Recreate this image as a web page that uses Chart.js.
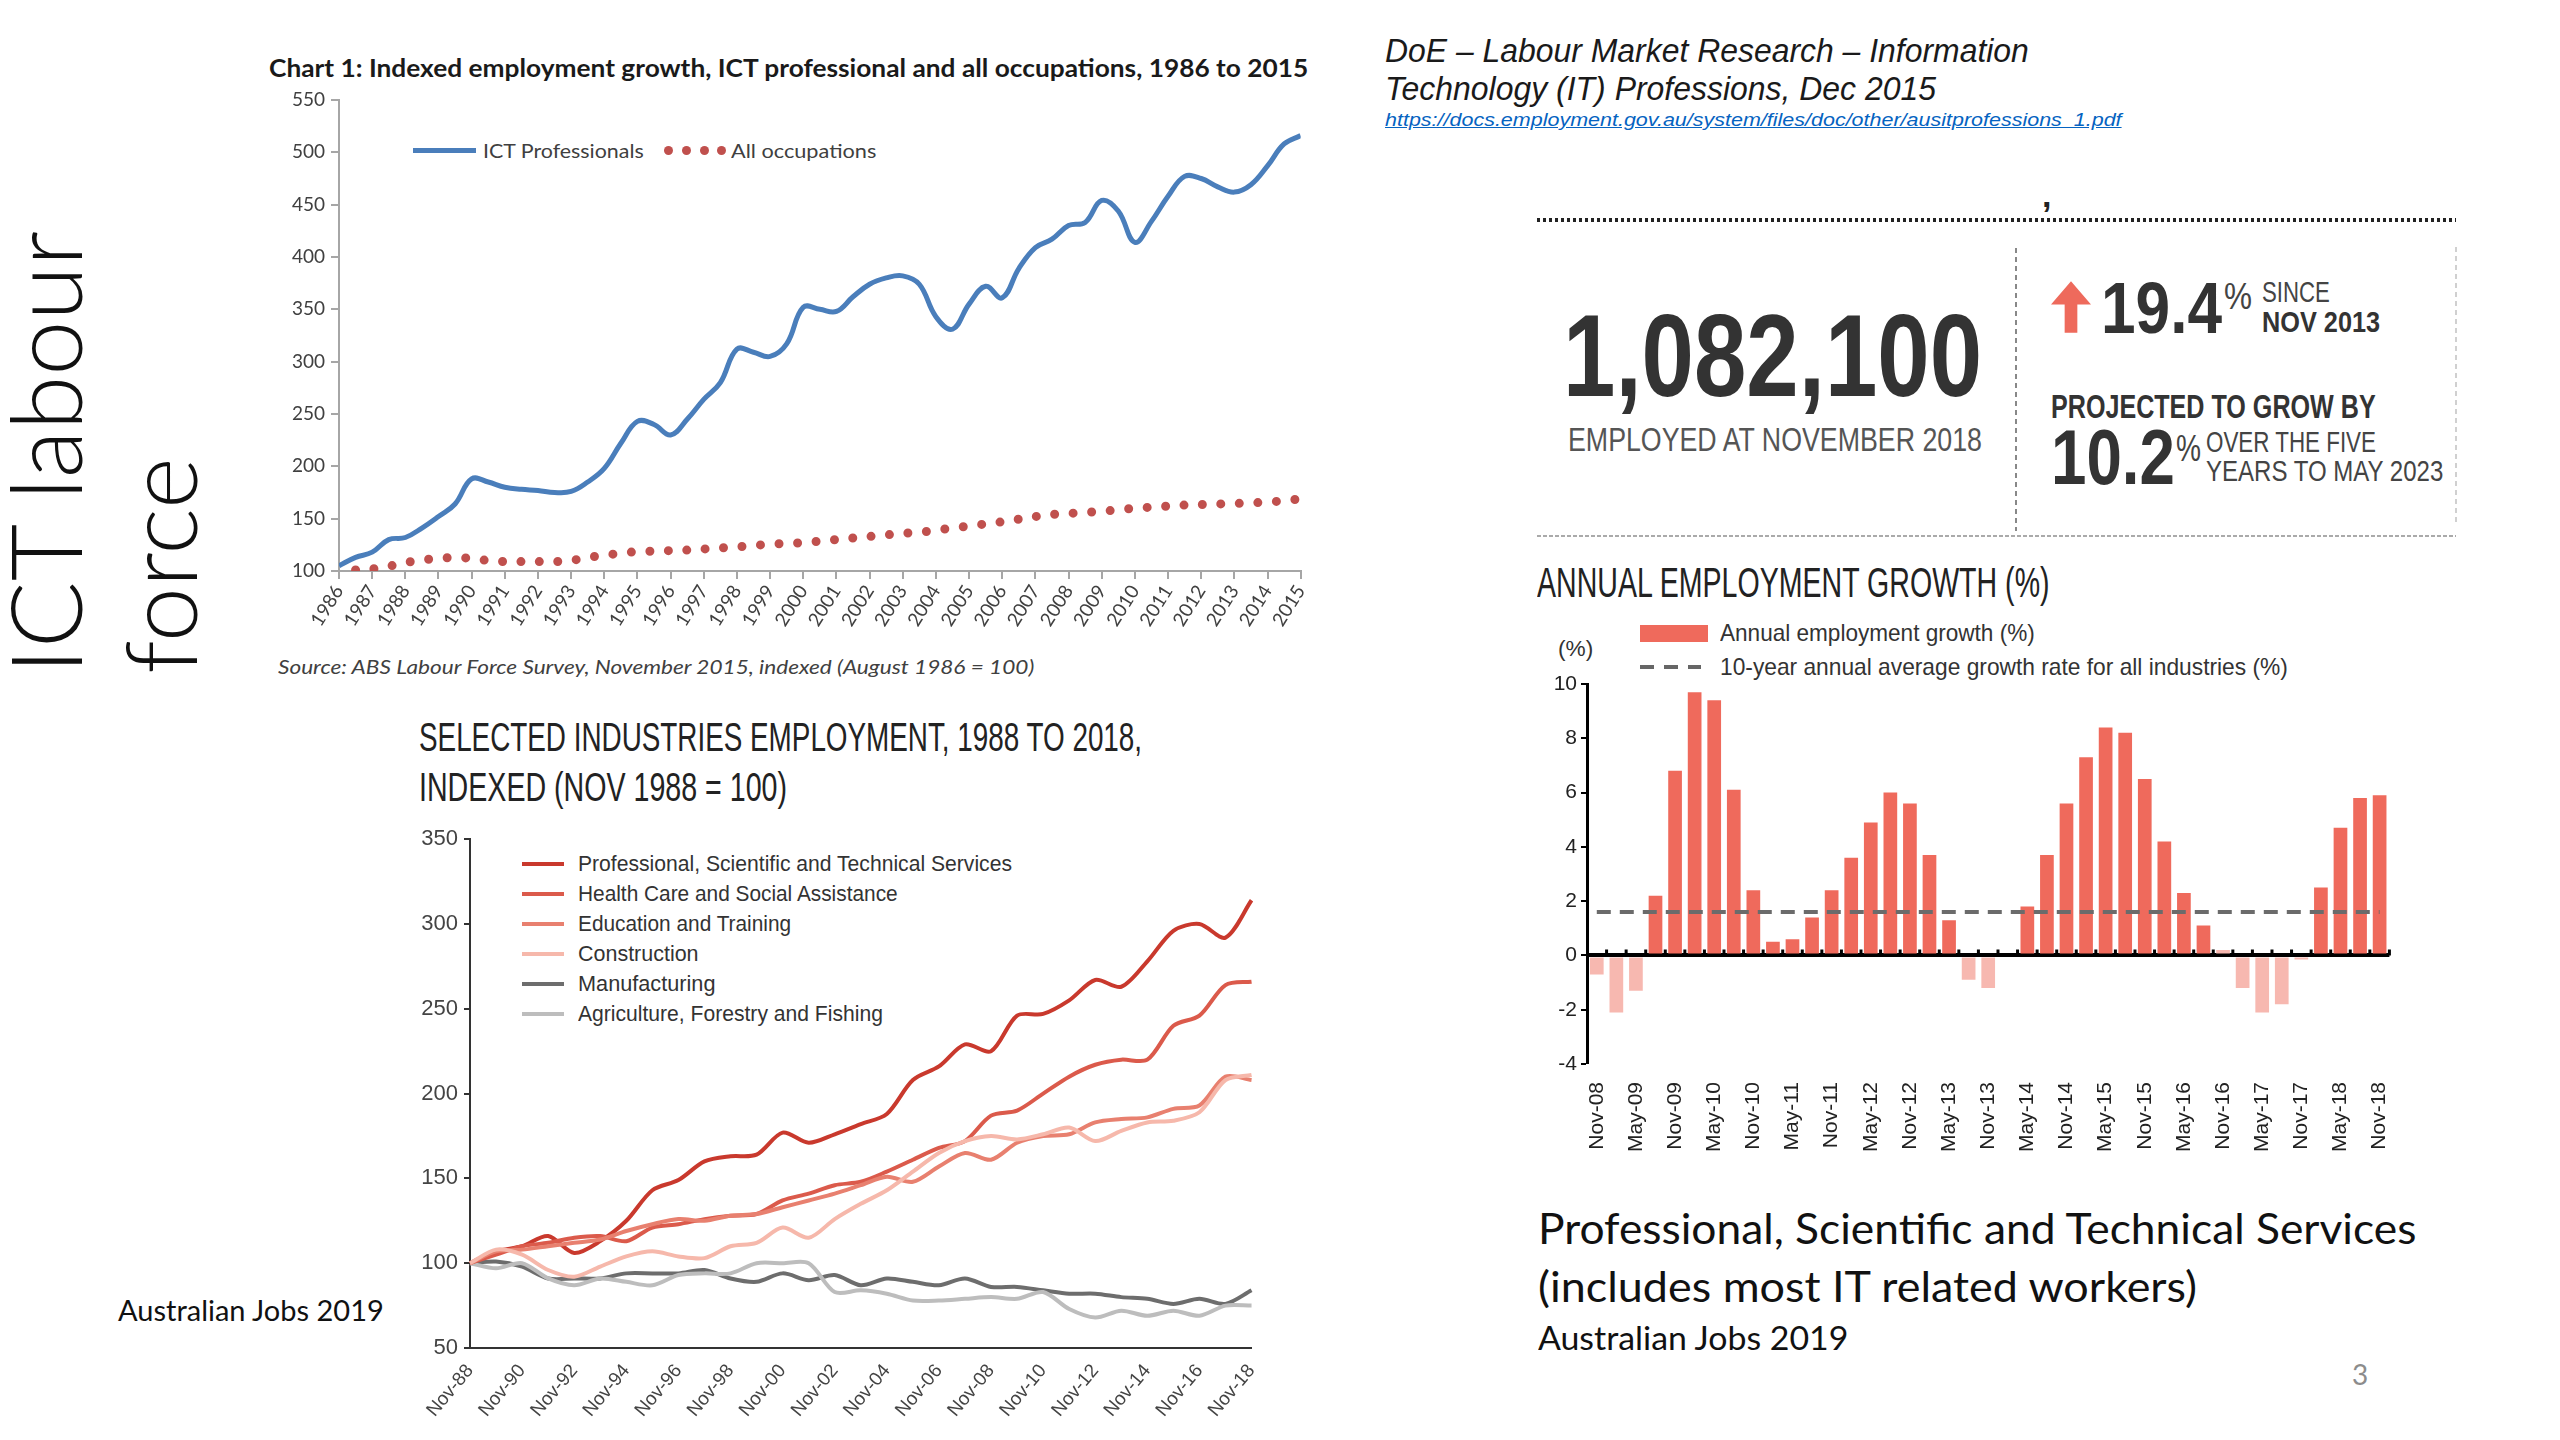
<!DOCTYPE html>
<html lang="en">
<head>
<meta charset="UTF-8">
<title>ICT labour force</title>
<script src="https://cdn.jsdelivr.net/npm/chart.js@4.4.1/dist/chart.umd.min.js"></script>
<style>
  html, body { margin: 0; padding: 0; background: #fff; }
  body { width: 2560px; height: 1440px; position: relative; overflow: hidden; color: #111; }
  .t { position: absolute; white-space: nowrap; line-height: 1; transform-origin: 0 50%; }
  .n { font-family: 'Liberation Sans Narrow', 'Liberation Sans', Arial, sans-serif; }
  .c { font-family: Lato, 'Open Sans', sans-serif; }
  .box { position: absolute; }
  canvas { position: absolute; }
</style>
</head>
<body>

<!-- side title -->
<div class="c" style="position:absolute; left:-14px; top:674px; transform-origin:0 0; transform:rotate(-90deg); font-weight:300; font-size:99px; line-height:115px; white-space:nowrap;">ICT labour<br>force</div>

<!-- chart 1 texts -->
<div class="t c" data-w="1039" style="left:269px; top:56px; font-size:24px; font-weight:700; color:#1a1a1a;">Chart 1: Indexed employment growth, ICT professional and all occupations, 1986 to 2015</div>
<div class="box" style="left:413px; top:148px; width:63px; height:5px; background:#4a7ebb;"></div>
<div class="t c" data-w="161" style="left:483px; top:141px; font-size:19px; color:#404040;">ICT Professionals</div>
<div class="box" style="left:664px; top:146px; width:9px; height:9px; border-radius:50%; background:#c0504d;"></div>
<div class="box" style="left:682px; top:146px; width:9px; height:9px; border-radius:50%; background:#c0504d;"></div>
<div class="box" style="left:700px; top:146px; width:9px; height:9px; border-radius:50%; background:#c0504d;"></div>
<div class="box" style="left:717px; top:146px; width:9px; height:9px; border-radius:50%; background:#c0504d;"></div>
<div class="t c" data-w="145" style="left:731px; top:141px; font-size:19px; color:#404040;">All occupations</div>
<div class="t c" data-w="756" style="left:278px; top:657px; font-size:19px; font-style:italic; color:#404040;">Source: ABS Labour Force Survey, November 2015, indexed (August 1986 = 100)</div>
<canvas id="ictChart" width="1065" height="561" style="left:257px; top:79px;"></canvas>

<!-- chart 2 texts -->
<div class="t n" data-w="723" style="left:419px; top:717px; font-size:40px; color:#222;">SELECTED INDUSTRIES EMPLOYMENT, 1988 TO 2018,</div>
<div class="t n" data-w="368" style="left:419px; top:767px; font-size:40px; color:#222;">INDEXED (NOV 1988 = 100)</div>
<div id="industryLegend"></div>
<canvas id="industryChart" width="889" height="603" style="left:384px; top:820px;"></canvas>
<div class="t c" data-w="266" style="left:118px; top:1295px; font-size:29px; color:#111;">Australian Jobs 2019</div>

<!-- top right reference -->
<div class="t n" data-w="644" style="left:1385px; top:34px; font-size:33px; font-style:italic; color:#1a1a1a;">DoE – Labour Market Research – Information</div>
<div class="t n" data-w="551" style="left:1385px; top:72px; font-size:33px; font-style:italic; color:#1a1a1a;">Technology (IT) Professions, Dec 2015</div>
<div class="t n" data-w="736" style="left:1385px; top:110px; font-size:19px; font-style:italic; color:#0563c1; text-decoration:underline;">https://docs.employment.gov.au/system/files/doc/other/ausitprofessions_1.pdf</div>

<!-- key figures -->
<div class="box" style="left:1537px; top:218px; width:919px; height:4px; background:repeating-linear-gradient(90deg,#222 0 3px,transparent 3px 6px);"></div>
<div class="t n" style="left:2042px; top:178px; font-size:34px; font-weight:700; color:#222;">,</div>
<div class="box" style="left:2015px; top:248px; width:2px; height:283px; background:repeating-linear-gradient(180deg,#888 0 5px,transparent 5px 9px);"></div>
<div class="box" style="left:2455px; top:247px; width:2px; height:279px; background:repeating-linear-gradient(180deg,#d0d0d0 0 5px,transparent 5px 9px);"></div>
<div class="box" style="left:1537px; top:535px; width:919px; height:2px; background:repeating-linear-gradient(90deg,#aaa 0 4px,transparent 4px 6px);"></div>
<div class="t n" data-w="419" style="left:1563px; top:298px; font-size:116px; font-weight:700; color:#333;">1,082,100</div>
<div class="t n" data-w="414" style="left:1568px; top:422px; font-size:34px; color:#555;">EMPLOYED AT NOVEMBER 2018</div>
<svg class="box" style="left:2051px; top:281px;" width="40" height="52" viewBox="0 0 41 53"><path d="M20.5 0 L41 24 L27 24 L27 53 L14 53 L14 24 L0 24 Z" fill="#ee6a5c"/></svg>
<div class="t n" data-w="121" style="left:2101px; top:271px; font-size:73px; font-weight:700; color:#333;">19.4</div>
<div class="t n" data-w="28" style="left:2224px; top:279px; font-size:36px; color:#444;">%</div>
<div class="t n" data-w="68" style="left:2262px; top:277px; font-size:30px; color:#444;">SINCE</div>
<div class="t n" data-w="118" style="left:2262px; top:307px; font-size:30px; font-weight:700; color:#333;">NOV 2013</div>
<div class="t n" data-w="325" style="left:2051px; top:390px; font-size:33px; font-weight:700; color:#333;">PROJECTED TO GROW BY</div>
<div class="t n" data-w="124" style="left:2051px; top:419px; font-size:77px; font-weight:700; color:#333;">10.2</div>
<div class="t n" data-w="25" style="left:2176px; top:431px; font-size:36px; color:#444;">%</div>
<div class="t n" data-w="170" style="left:2206px; top:427px; font-size:30px; color:#444;">OVER THE FIVE</div>
<div class="t n" data-w="237" style="left:2206px; top:456px; font-size:30px; color:#444;">YEARS TO MAY 2023</div>

<!-- chart 3 texts -->
<div class="t n" data-w="513" style="left:1537px; top:562px; font-size:42px; color:#222;">ANNUAL EMPLOYMENT GROWTH (%)</div>
<div class="box" style="left:1640px; top:625px; width:68px; height:17px; background:#ef6a5c;"></div>
<div class="t n" data-w="315" style="left:1720px; top:621px; font-size:24px; color:#333;">Annual employment growth (%)</div>
<div class="box" style="left:1640px; top:665px; width:61px; height:4px; background:repeating-linear-gradient(90deg,#666 0 14px,transparent 14px 24px);"></div>
<div class="t n" data-w="568" style="left:1720px; top:655px; font-size:24px; color:#333;">10-year annual average growth rate for all industries (%)</div>
<div class="t n" data-w="35" style="left:1558px; top:638px; font-size:22px; color:#333;">(%)</div>
<canvas id="growthChart" width="878" height="492" style="left:1537px; top:662px;"></canvas>

<div class="t c" data-w="878" style="left:1538px; top:1206px; font-size:43px; color:#111;">Professional, Scientific and Technical Services</div>
<div class="t c" data-w="659" style="left:1538px; top:1264px; font-size:43px; color:#111;">(includes most IT related workers)</div>
<div class="t c" data-w="310" style="left:1538px; top:1321px; font-size:33px; color:#111;">Australian Jobs 2019</div>
<div class="t c" style="left:2352px; top:1360px; font-size:28px; color:#8c8c8c;">3</div>

<script>
// ---------- Chart 1: ICT professionals vs all occupations (Aug 1986 = 100)
const ictPeriods = [1986, 1986.5, 1987, 1987.5, 1988, 1988.5, 1989, 1989.5, 1990, 1990.5,
  1991, 1991.5, 1992, 1992.5, 1993, 1993.5, 1994, 1994.5, 1995, 1995.5,
  1996, 1996.5, 1997, 1997.5, 1998, 1998.5, 1999, 1999.5, 2000, 2000.5,
  2001, 2001.5, 2002, 2002.5, 2003, 2003.5, 2004, 2004.5, 2005, 2005.5,
  2006, 2006.5, 2007, 2007.5, 2008, 2008.5, 2009, 2009.5, 2010, 2010.5,
  2011, 2011.5, 2012, 2012.5, 2013, 2013.5, 2014, 2014.5, 2015];
const ictProfessionals = [105, 113, 118, 130, 132, 141, 152, 164, 188, 185,
  180, 178, 177, 175, 176, 185, 198, 222, 243, 240,
  230, 245, 264, 280, 312, 309, 305, 317, 352, 350,
  348, 362, 374, 380, 382, 374, 343, 331, 355, 372,
  361, 389, 409, 417, 430, 433, 454, 444, 414, 434,
  458, 477, 475, 467, 462, 469, 487, 508, 516];
const allOccupations = [null, 101, 102, 104.5, 108, 110.5, 112, 113, 112, 110,
  109, 109, 109, 109, 110, 113, 115, 117, 118.5, 119,
  119.5, 120, 121, 122, 123, 124.5, 125.5, 126.5, 127, 128.5,
  130, 131.5, 133, 134.5, 136, 137, 139, 141, 143, 145,
  147, 149.5, 152, 154, 155, 156, 157, 158.5, 160, 161,
  162, 163, 163.5, 164, 164.5, 165, 166, 167, 169];

// ---------- Chart 2: selected industries (Nov 1988 = 100)
const industryYears = ['Nov-88', 'Nov-89', 'Nov-90', 'Nov-91', 'Nov-92', 'Nov-93', 'Nov-94', 'Nov-95',
  'Nov-96', 'Nov-97', 'Nov-98', 'Nov-99', 'Nov-00', 'Nov-01', 'Nov-02', 'Nov-03', 'Nov-04',
  'Nov-05', 'Nov-06', 'Nov-07', 'Nov-08', 'Nov-09', 'Nov-10', 'Nov-11', 'Nov-12', 'Nov-13',
  'Nov-14', 'Nov-15', 'Nov-16', 'Nov-17', 'Nov-18'];
const professional = [100, 107, 110, 116, 106, 113, 125, 143, 149, 160, 163, 164, 177, 171, 176, 182,
  188, 208, 216, 229, 225, 246, 247, 255, 267, 263, 278, 296, 300, 292, 314];
const healthCare = [100, 105, 110, 112, 115, 116, 113, 121, 123, 126, 128, 129, 137, 141, 146, 148,
  154, 161, 168, 172, 187, 190, 200, 210, 217, 220, 220, 240, 246, 264, 266];
const education = [100, 107, 108, 110, 112, 114, 119, 123, 126, 125, 128, 129, 133, 137, 141, 146,
  151, 148, 157, 165, 161, 171, 175, 176, 183, 185, 186, 191, 193, 210, 208];
const construction = [100, 108, 105, 96, 92, 98, 104, 107, 104, 103, 110, 112, 121, 115, 126, 135,
  143, 154, 165, 172, 175, 173, 176, 180, 172, 178, 183, 184, 189, 208, 211];
const manufacturing = [100, 101, 98, 91, 91, 91, 94, 94, 94, 96, 91, 89, 94, 90, 93, 87,
  91, 89, 87, 91, 86, 86, 84, 82, 82, 80, 79, 76, 79, 76, 84];
const agriculture = [100, 97, 100, 91, 87, 91, 89, 87, 93, 94, 94, 100, 100, 100, 83, 84,
  82, 78, 78, 79, 80, 79, 83, 73, 68, 72, 69, 72, 69, 75, 75];
const industryNames = ['Professional, Scientific and Technical Services', 'Health Care and Social Assistance',
  'Education and Training', 'Construction', 'Manufacturing', 'Agriculture, Forestry and Fishing'];
const industrySeries = [professional, healthCare, education, construction, manufacturing, agriculture];
const industryColors = ['#c9392d', '#db5a4b', '#e8806f', '#f6b8ab', '#6d6d6d', '#bdbdbd'];
const legendWidths = [434, 320, 213, 121, 137, 305];

// ---------- Chart 3: annual employment growth, quarterly
const quarters = ['Nov-08', 'Feb-09', 'May-09', 'Aug-09', 'Nov-09', 'Feb-10', 'May-10', 'Aug-10',
  'Nov-10', 'Feb-11', 'May-11', 'Aug-11', 'Nov-11', 'Feb-12', 'May-12', 'Aug-12', 'Nov-12',
  'Feb-13', 'May-13', 'Aug-13', 'Nov-13', 'Feb-14', 'May-14', 'Aug-14', 'Nov-14', 'Feb-15',
  'May-15', 'Aug-15', 'Nov-15', 'Feb-16', 'May-16', 'Aug-16', 'Nov-16', 'Feb-17', 'May-17',
  'Aug-17', 'Nov-17', 'Feb-18', 'May-18', 'Aug-18', 'Nov-18'];
const annualGrowth = [-0.7, -2.1, -1.3, 2.2, 6.8, 9.7, 9.4, 6.1, 2.4, 0.5,
  0.6, 1.4, 2.4, 3.6, 4.9, 6.0, 5.6, 3.7, 1.3, -0.9,
  -1.2, 0, 1.8, 3.7, 5.6, 7.3, 8.4, 8.2, 6.5, 4.2,
  2.3, 1.1, 0.2, -1.2, -2.1, -1.8, -0.15, 2.5, 4.7, 5.8, 5.9];
const tenYearAverage = 1.6;

const narrow = "'Liberation Sans Narrow', 'Liberation Sans', Arial, sans-serif";
const calib = "Lato, 'Open Sans', sans-serif";

// legend for chart 2 (inside the plot, top left)
const legendBox = document.getElementById('industryLegend');
industryNames.forEach((name, i) => {
  const cy = 863.5 + i * 30;
  const line = document.createElement('div');
  line.className = 'box';
  line.style.cssText = `left:522px; top:${cy - 2}px; width:42px; height:4px; background:${industryColors[i]};`;
  const txt = document.createElement('div');
  txt.className = 't n';
  txt.dataset.w = legendWidths[i];
  txt.style.cssText = `left:578px; top:${cy - 11}px; font-size:22px; color:#333;`;
  txt.textContent = name;
  legendBox.appendChild(line);
  legendBox.appendChild(txt);
});

Chart.defaults.animation = false;
Chart.defaults.devicePixelRatio = 1;
Chart.defaults.plugins.legend.display = false;
Chart.defaults.plugins.tooltip.enabled = false;

const axisGrey = '#a6a6a6';

new Chart(document.getElementById('ictChart'), {
  type: 'line',
  data: {
    datasets: [
      {
        label: 'ICT Professionals',
        data: ictPeriods.map((p, i) => ({ x: p, y: ictProfessionals[i] })),
        borderColor: '#4a7ebb', borderWidth: 5, pointRadius: 0, tension: 0.4
      },
      {
        label: 'All occupations',
        data: ictPeriods.map((p, i) => ({ x: p, y: allOccupations[i] })),
        borderColor: '#c0504d', borderWidth: 9, borderDash: [0, 18.5], borderCapStyle: 'round',
        pointRadius: 0, tension: 0.3
      }
    ]
  },
  options: {
    responsive: false,
    layout: { padding: { top: 21, right: 15, left: 0, bottom: 0 } },
    scales: {
      x: {
        type: 'linear', min: 1986, max: 2015,
        afterFit: s => { s.height = 69; },
        ticks: { stepSize: 1, autoSkip: false, minRotation: 58, maxRotation: 58, padding: 2,
          color: '#404040', font: { family: calib, size: 19 }, callback: v => String(v) },
        grid: { drawOnChartArea: false, tickLength: 8, color: axisGrey, lineWidth: 2 },
        border: { color: axisGrey, width: 2 }
      },
      y: {
        min: 100, max: 550,
        afterFit: s => { s.width = 82; },
        ticks: { stepSize: 50, padding: 6, color: '#404040', font: { family: calib, size: 19 } },
        grid: { drawOnChartArea: false, tickLength: 8, color: axisGrey, lineWidth: 2 },
        border: { color: axisGrey, width: 2 }
      }
    }
  }
});

new Chart(document.getElementById('industryChart'), {
  type: 'line',
  data: {
    labels: industryYears,
    datasets: industrySeries.map((s, i) => ({
      label: industryNames[i], data: s, borderColor: industryColors[i],
      borderWidth: 4, pointRadius: 0, tension: 0.3, order: i < 4 ? 6 - i : 10 - i
    }))
  },
  options: {
    responsive: false,
    layout: { padding: { top: 17, right: 20, left: 10, bottom: 0 } },
    scales: {
      x: {
        afterFit: s => { s.height = 75; },
        ticks: {
          autoSkip: false, minRotation: 50, maxRotation: 50, padding: 4,
          color: '#444', font: { family: narrow, size: 19 },
          callback: function (v, i) { return i % 2 === 0 ? this.getLabelForValue(v) : ''; }
        },
        grid: { display: false },
        border: { color: '#333', width: 2 }
      },
      y: {
        min: 50, max: 350,
        afterFit: s => { s.width = 76; },
        ticks: { stepSize: 50, padding: 6, color: '#444', font: { family: narrow, size: 22 } },
        grid: { drawOnChartArea: false, tickLength: 6, color: '#333', lineWidth: 2 },
        border: { color: '#333', width: 2 }
      }
    }
  }
});

// small upward marks on the zero line, between the quarters
const zeroLineMarks = {
  id: 'zeroLineMarks',
  afterDatasetsDraw(chart) {
    const { ctx, scales: { x, y } } = chart;
    const y0 = y.getPixelForValue(0);
    const half = (x.getPixelForValue(1) - x.getPixelForValue(0)) / 2;
    ctx.save();
    ctx.strokeStyle = '#000';
    ctx.lineWidth = 3;
    ctx.beginPath();
    for (let i = 0; i < quarters.length; i++) {
      const px = x.getPixelForValue(i) + half;
      ctx.moveTo(px, y0);
      ctx.lineTo(px, y0 - 6);
    }
    ctx.stroke();
    ctx.restore();
  }
};

new Chart(document.getElementById('growthChart'), {
  data: {
    labels: quarters,
    datasets: [
      {
        type: 'line', label: '10-year annual average growth rate for all industries (%)',
        data: [{ x: quarters[0], y: tenYearAverage }, { x: quarters[quarters.length - 1], y: tenYearAverage }],
        borderColor: '#6b6b6b', borderWidth: 4, borderDash: [14, 9], pointRadius: 0, order: 0
      },
      {
        type: 'bar', label: 'Annual employment growth (%)', data: annualGrowth,
        backgroundColor: annualGrowth.map(v => v > 0.3 ? '#ef6a5c' : '#f7b8b0'),
        categoryPercentage: 1, barPercentage: 0.7, order: 1
      }
    ]
  },
  options: {
    responsive: false,
    layout: { padding: { top: 22, right: 15, left: 10, bottom: 0 } },
    scales: {
      x: {
        afterFit: s => { s.height = 90; },
        ticks: {
          autoSkip: false, minRotation: 90, maxRotation: 90, padding: 10,
          color: '#222', font: { family: narrow, size: 21 },
          callback: function (v, i) { return i % 2 === 0 ? this.getLabelForValue(v) : ''; }
        },
        grid: { display: false },
        border: { display: false }
      },
      y: {
        min: -4, max: 10,
        afterFit: s => { s.width = 40; },
        ticks: { stepSize: 2, padding: 4, color: '#222', font: { family: narrow, size: 21 } },
        grid: {
          color: c => c.tick.value === 0 ? '#000' : 'rgba(0,0,0,0)',
          lineWidth: c => c.tick.value === 0 ? 4 : 0,
          tickColor: '#000', tickWidth: 2, tickLength: 6
        },
        border: { color: '#000', width: 3 }
      }
    }
  },
  plugins: [zeroLineMarks]
});

// squeeze or stretch each text to the width it has in the slide
function fitTexts() {
  document.querySelectorAll('[data-w]').forEach(el => {
    el.style.transform = '';
    const w = el.offsetWidth;
    if (w > 0) el.style.transform = 'scaleX(' + (parseFloat(el.dataset.w) / w).toFixed(3) + ')';
  });
}
fitTexts();
document.fonts.ready.then(fitTexts);
</script>
</body>
</html>
